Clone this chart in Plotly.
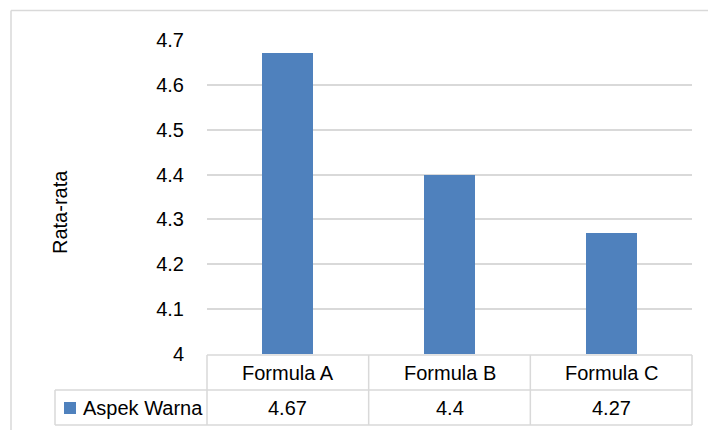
import plotly.graph_objects as go

# Chart data
categories = ["Formula A", "Formula B", "Formula C"]
series_name = "Aspek Warna"
values = [4.67, 4.4, 4.27]
y_ticks = [4.0, 4.1, 4.2, 4.3, 4.4, 4.5, 4.6, 4.7]
y_tick_labels = ["4", "4.1", "4.2", "4.3", "4.4", "4.5", "4.6", "4.7"]
y_title = "Rata-rata"

W, H = 708, 430
BAR_COLOR = "#4F81BD"
LINE_COLOR = "#D9D9D9"
FONT = "Liberation Sans Narrow, Arial Narrow, Liberation Sans, Arial, sans-serif"
FS = 20

# plot area in pixels
PL, PR, PT, PB = 207, 692, 40, 354


def px(x):
    return x / W


def py(y):
    return 1 - y / H


fig = go.Figure()
fig.add_trace(go.Bar(
    x=categories, y=values, name=series_name, width=0.315,
    marker=dict(color=BAR_COLOR, line=dict(width=0)),
    showlegend=False, hoverinfo="x+y",
))

# data table grid below the plot area
ROW1_T, ROW1_B, ROW2_B = 355, 390, 425
TABLE_L = 55
cat_w = (PR - PL) / len(categories)
lines = [
    (PL, ROW1_T, PR, ROW1_T),
    (TABLE_L, ROW1_B, PR, ROW1_B),
    (TABLE_L, ROW2_B, PR, ROW2_B),
    (TABLE_L, ROW1_B, TABLE_L, ROW2_B),
]
for i in range(len(categories) + 1):
    xv = PL + i * cat_w
    lines.append((xv, ROW1_T, xv, ROW2_B))

shapes = []
for x0, y0, x1, y1 in lines:
    shapes.append(dict(type="line", xref="paper", yref="paper",
                       x0=px(x0), y0=py(y0), x1=px(x1), y1=py(y1),
                       line=dict(color=LINE_COLOR, width=1.5)))

# chart border (top and left edges)
shapes.append(dict(type="line", xref="paper", yref="paper",
                   x0=px(11), y0=py(10.5), x1=1, y1=py(10.5),
                   line=dict(color=LINE_COLOR, width=1.5)))
shapes.append(dict(type="line", xref="paper", yref="paper",
                   x0=px(11), y0=py(10.5), x1=px(11), y1=0,
                   line=dict(color=LINE_COLOR, width=1.5)))

# legend key in the table
shapes.append(dict(type="rect", xref="paper", yref="paper",
                   x0=px(64), y0=py(402), x1=px(76), y1=py(414),
                   fillcolor=BAR_COLOR, line=dict(width=0)))

annotations = []
for cat, val in zip(categories, values):
    annotations.append(dict(x=cat, xref="x", y=py((ROW1_T + ROW1_B) / 2), yref="paper",
                            text=cat, showarrow=False, xanchor="center", yanchor="middle",
                            font=dict(family=FONT, size=FS, color="#000000")))
    annotations.append(dict(x=cat, xref="x", y=py((ROW1_B + ROW2_B) / 2), yref="paper",
                            text=f"{val:g}", showarrow=False, xanchor="center", yanchor="middle",
                            font=dict(family=FONT, size=FS, color="#000000")))
annotations.append(dict(x=px(81), xref="paper", y=py((ROW1_B + ROW2_B) / 2), yref="paper",
                        text=series_name, showarrow=False, xanchor="left", yanchor="middle",
                        font=dict(family=FONT, size=FS, color="#000000")))
annotations.append(dict(x=px(60), xref="paper", y=py(212), yref="paper",
                        text=y_title, textangle=-90, showarrow=False,
                        xanchor="center", yanchor="middle",
                        font=dict(family=FONT, size=FS, color="#000000")))

fig.update_layout(
    width=W, height=H,
    margin=dict(l=0, r=0, t=0, b=0, pad=0),
    paper_bgcolor="white", plot_bgcolor="white",
    font=dict(family=FONT, size=FS, color="#000000"),
    bargap=0,
    showlegend=False,
    xaxis=dict(domain=[px(PL), px(PR)], showticklabels=False, showgrid=False,
               zeroline=False, showline=False, ticks="", fixedrange=True,
               automargin=False),
    yaxis=dict(domain=[py(PB), py(PT)], range=[4, 4.7], tickvals=y_ticks,
               ticktext=y_tick_labels, showgrid=True, gridcolor=LINE_COLOR,
               gridwidth=1.5, zeroline=False, showline=False, ticks="",
               ticklabelstandoff=22, tickfont=dict(family=FONT, size=FS, color="#000000"),
               fixedrange=True, automargin=False),
    shapes=shapes,
    annotations=annotations,
)

fig.write_html("out.html")
